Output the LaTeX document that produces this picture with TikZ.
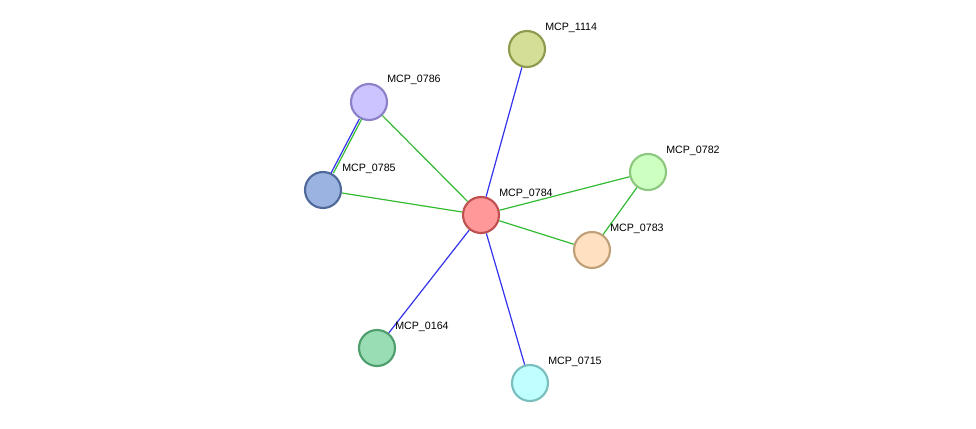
\documentclass[tikz,border=0pt]{standalone}
\usepackage{fontspec}
\setmainfont{Liberation Sans}
\definecolor{hitblue}{HTML}{3333EE}
\definecolor{hitgreen}{HTML}{33BB33}
\tikzset{
  prot/.style={circle,minimum size=27pt,inner sep=0pt,line width=1.6pt},
  lbl/.style={anchor=west,font=\fontsize{8}{9}\selectfont,inner sep=0pt},
  blueedge/.style={draw=hitblue,line width=0.9pt},
  greenedge/.style={draw=hitgreen,line width=0.9pt}
}
\begin{document}
\begin{tikzpicture}[x=0.75pt,y=-0.75pt]
        % Fix picture size
        \useasboundingbox[fill=white] (0,0) rectangle (976,429);
        % Draw proteins
        \node[prot,fill={rgb,255:red,255;green,153;blue,153},draw={rgb,255:red,192;green,80;blue,80}] (p0784) at (481,215) {};
        \node[prot,fill={rgb,255:red,212;green,222;blue,150},draw={rgb,255:red,142;green,155;blue,78}] (p1114) at (527,49) {};
        \node[prot,fill={rgb,255:red,204;green,196;blue,255},draw={rgb,255:red,140;green,128;blue,200}] (p0786) at (369,102) {};
        \node[prot,fill={rgb,255:red,155;green,179;blue,224},draw={rgb,255:red,79;green,106;blue,154}] (p0785) at (323,190) {};
        \node[prot,fill={rgb,255:red,204;green,255;blue,192},draw={rgb,255:red,140;green,200;blue,128}] (p0782) at (648,172) {};
        \node[prot,fill={rgb,255:red,255;green,224;blue,192},draw={rgb,255:red,192;green,160;blue,120}] (p0783) at (592,250) {};
        \node[prot,fill={rgb,255:red,153;green,221;blue,181},draw={rgb,255:red,78;green,158;blue,110}] (p0164) at (377,348) {};
        \node[prot,fill={rgb,255:red,192;green,255;blue,255},draw={rgb,255:red,122;green,190;blue,190}] (p0715) at (530,383) {};
        % Draw interactions
        \begin{scope}[on background layer/.style={}]
        \end{scope}
        \draw[blueedge] (p0784) -- (p1114);
        \draw[blueedge] (p0784) -- (p0164);
        \draw[blueedge] (p0784) -- (p0715);
        \draw[greenedge] (p0784) -- (p0786);
        \draw[greenedge] (p0784) -- (p0785);
        \draw[greenedge] (p0784) -- (p0782);
        \draw[greenedge] (p0784) -- (p0783);
        \draw[greenedge] (p0782) -- (p0783);
        \draw[greenedge,transform canvas={shift={(1.2pt,0)}}] (p0785) -- (p0786);
        \draw[blueedge,transform canvas={shift={(-0.6pt,0)}}] (p0785) -- (p0786);
        % Draw labels
        \node[lbl] (l0784) at (499,194) {MCP\_0784};
        \node[lbl] (l1114) at (545,28) {MCP\_1114};
        \node[lbl] (l0786) at (387,80) {MCP\_0786};
        \node[lbl] (l0785) at (342,169) {MCP\_0785};
        \node[lbl] (l0782) at (666,151) {MCP\_0782};
        \node[lbl] (l0783) at (610,229) {MCP\_0783};
        \node[lbl] (l0164) at (395,327) {MCP\_0164};
        \node[lbl] (l0715) at (548,362) {MCP\_0715};
\end{tikzpicture}
\end{document}
